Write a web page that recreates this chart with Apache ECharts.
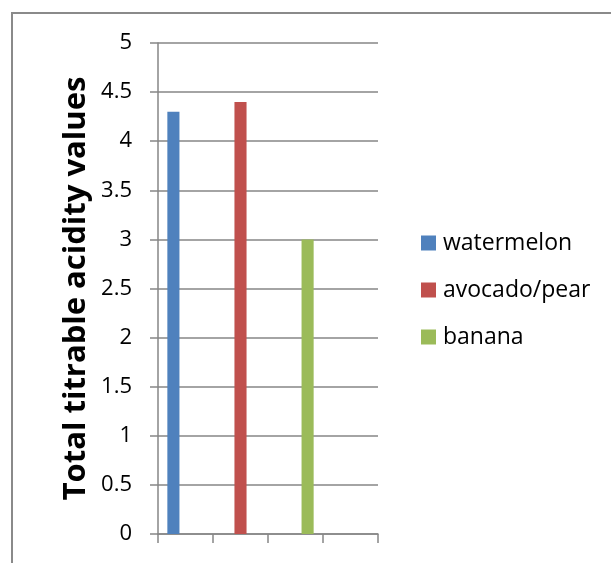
<!DOCTYPE html>
<html>
<head>
<meta charset="utf-8">
<script src="https://cdn.jsdelivr.net/npm/echarts@6/dist/echarts.min.js"></script>
<style>
  html, body { margin: 0; padding: 0; background: #fff; }
  #main { width: 611px; height: 563px; }
</style>
</head>
<body>
<div id="main"></div>
<script>
var categories = ['', '', '', ''];
var fruits = ['watermelon', 'avocado/pear', 'banana'];
var acidity = [4.3, 4.4, 3.0];
var colors = ['#4F81BD', '#C0504D', '#9BBB59'];
var yTicks = { min: 0, max: 5, interval: 0.5 };

var chart = echarts.init(document.getElementById('main'));

// each fruit sits in its own category slot, like the spreadsheet did it
var series = fruits.map(function (name, i) {
  var data = categories.map(function (c, j) {
    return j === i ? acidity[i] : '-';
  });
  return {
    name: name,
    type: 'bar',
    data: data,
    barGap: '0%',
    barCategoryGap: '34%',
    itemStyle: { color: colors[i] }
  };
});

var option = {
  animation: false,
  textStyle: { fontFamily: 'Open Sans' },
  grid: { left: 158, right: 233, top: 43, bottom: 29 },
  graphic: [{
    type: 'rect',
    shape: { x: 12, y: 13, width: 700, height: 700 },
    style: { fill: 'none', stroke: '#8a8a8a', lineWidth: 2 },
    silent: true
  }],
  legend: {
    orient: 'vertical',
    left: 421,
    top: 231,
    padding: 0,
    itemWidth: 15,
    itemHeight: 15,
    itemGap: 23,
    icon: 'rect',
    textStyle: { fontSize: 23, color: '#000', lineHeight: 24, padding: [0, 0, 0, 2] },
    data: fruits
  },
  xAxis: {
    type: 'category',
    data: categories,
    axisLine: { lineStyle: { color: '#868686', width: 1.5 } },
    axisTick: { show: true, length: 9, lineStyle: { color: '#868686', width: 1.5 } },
    axisLabel: { show: false }
  },
  yAxis: {
    type: 'value',
    min: yTicks.min,
    max: yTicks.max,
    interval: yTicks.interval,
    name: 'Total titrable acidity values',
    nameLocation: 'middle',
    nameGap: 66,
    nameTextStyle: { fontSize: 31, fontWeight: 'bold', color: '#000', fontFamily: 'Open Sans' },
    axisLine: { show: true, lineStyle: { color: '#868686', width: 1.5 } },
    axisTick: { show: true, length: 8, lineStyle: { color: '#868686', width: 1.5 } },
    axisLabel: { fontSize: 22, color: '#000', margin: 26 },
    splitLine: { lineStyle: { color: '#868686', width: 1.5 } }
  },
  series: series
};

chart.setOption(option);
</script>
</body>
</html>
